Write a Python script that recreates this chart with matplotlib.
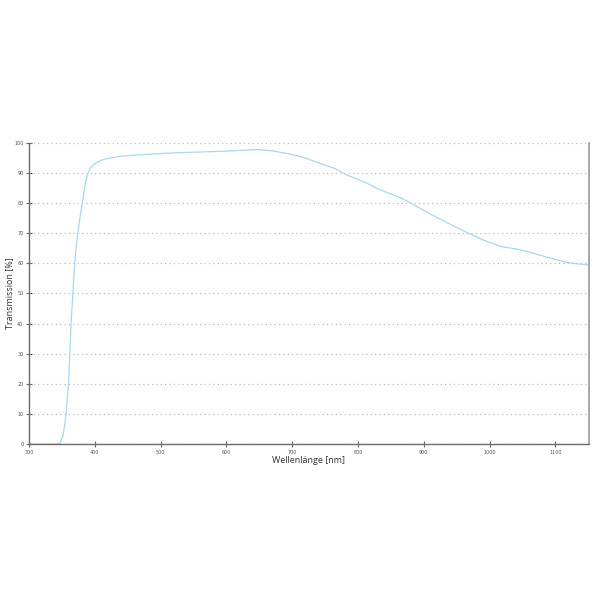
import matplotlib
matplotlib.use("Agg")
import matplotlib.pyplot as plt

# transmission curve
wavelength = [300, 320, 340, 347, 352, 356, 360, 364, 368, 371, 374, 378, 381, 385,
              389, 393, 398, 403, 410, 420, 440, 469, 500, 530, 560, 600, 646, 670, 697,
              720, 743, 765, 783, 810, 834, 865, 880, 910, 940, 966, 990, 1017,
              1040, 1058, 1075, 1093, 1118, 1135, 1150]
transmission = [0, 0, 0, 0.2, 3, 9, 20, 40, 55, 64, 70, 76, 80, 86,
                89.5, 91.6, 92.8, 93.5, 94.3, 94.9, 95.6, 96.1, 96.5, 96.8, 97.0, 97.3, 97.8, 97.4, 96.3,
                95.0, 93.2, 91.5, 89.4, 87.0, 84.4, 81.8, 80.0, 76.4, 73.0, 70.2, 67.8, 65.6,
                64.8, 63.9, 62.8, 61.7, 60.3, 59.8, 59.5]

x_ticks = [300, 400, 500, 600, 700, 800, 900, 1000, 1100]
y_ticks = [0, 10, 20, 30, 40, 50, 60, 70, 80, 90, 100]

LINE = "#a9d9ea"
SPINE = "#6b6b6b"

fig = plt.figure(figsize=(6, 6), dpi=100)
fig.patch.set_facecolor("white")
ax = fig.add_axes([0.0483, 0.26, 0.9333, 0.5017])

ax.plot(wavelength, transmission, color=LINE, linewidth=0.9)

ax.set_xlim(300, 1151)
ax.set_ylim(0, 100)
ax.set_xticks(x_ticks)
ax.set_yticks(y_ticks)
ax.tick_params(direction="inout", length=4, width=0.8, color=SPINE,
               labelsize=3.5, labelcolor="#555555", pad=2)

ax.grid(axis="y", linestyle=(0, (1, 2.5)), color="#bdbdbd", linewidth=0.9)
ax.set_axisbelow(True)

ax.spines["top"].set_visible(False)
ax.spines[["left", "bottom"]].set_color(SPINE)
ax.spines[["left", "bottom"]].set_linewidth(1.0)
ax.spines["right"].set_color("#9a9a9a")
ax.spines["right"].set_linewidth(1.2)

ax.set_xlabel("Wellenlänge [nm]", fontsize=6.5, color="#333333",
              family="Open Sans", labelpad=1)
ax.set_ylabel("Transmission [%]", fontsize=6.5, color="#333333",
              family="Open Sans")
ax.yaxis.set_label_coords(-0.026, 0.5)

fig.savefig("out.png", dpi=100)
